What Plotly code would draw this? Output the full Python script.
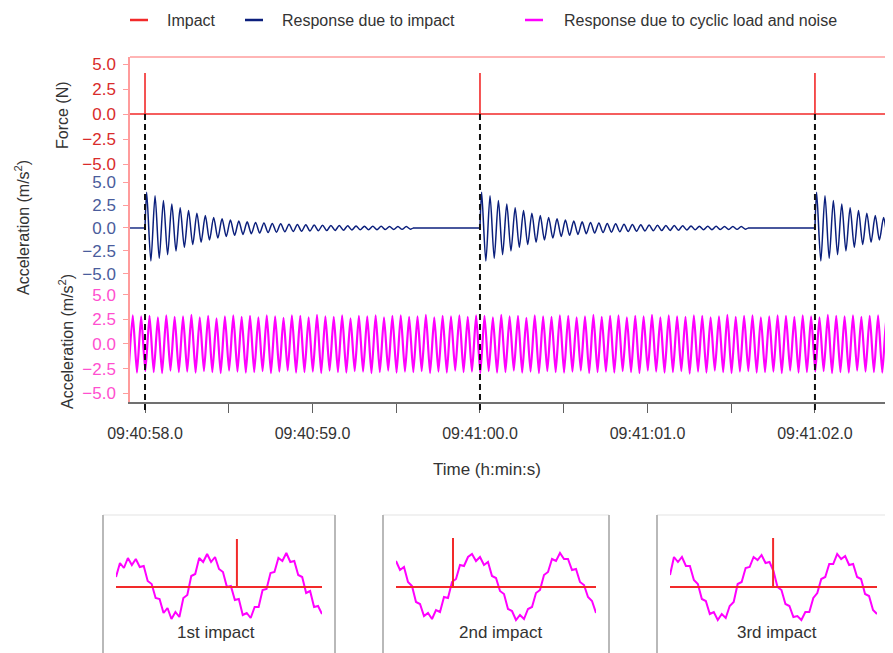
import plotly.graph_objects as go

W, H = 893, 653
PAGE_OFFSET = 8  # page body margin that shifts the figure in the window

# ---------------- data ----------------
tick_vals = [0.0, 0.5, 1.0, 1.5, 2.0, 2.5, 3.0, 3.5, 4.0]
tick_text = ["09:40:58.0", "", "09:40:59.0", "", "09:41:00.0", "", "09:41:01.0", "", "09:41:02.0"]
y_ticks = [-5.0, -2.5, 0.0, 2.5, 5.0]

impact_times = [0.0, 2.0, 4.0]          # seconds after 09:40:58.0
impact_peaks = [4.1, 4.1, 4.1]          # N

# damped response: per-cycle peak / trough (m/s^2)
resp_period = 0.05
resp_peaks = [3.9, 3.5, 3.0, 2.6, 2.2, 1.9, 1.6, 1.35, 1.15, 1.0, 0.87, 0.76, 0.67, 0.6, 0.54, 0.49,
              0.45, 0.41, 0.38, 0.35, 0.32, 0.3, 0.28, 0.26, 0.24, 0.22, 0.2, 0.19, 0.18, 0.17, 0.16, 0.15]
resp_troughs = [-3.6, -3.3, -2.9, -2.5, -2.1, -1.8, -1.55, -1.3, -1.1, -0.92, -0.8, -0.7, -0.62, -0.55, -0.5, -0.45,
                -0.41, -0.38, -0.35, -0.32, -0.3, -0.28, -0.26, -0.24, -0.22, -0.2, -0.19, -0.18, -0.17, -0.16, -0.15, -0.14]

# cyclic load + noise: per-cycle troughs / peaks (m/s^2)
cyc_start = -0.098
cyc_half = 0.025
cyc_peaks = [2.9, 2.8, 2.85, 2.7, 2.9, 2.75, 2.8, 2.95, 2.7, 2.85,
             2.6, 2.8, 2.9, 2.75, 2.85, 2.7, 2.9, 2.8, 2.65, 2.9,
             2.85, 2.7, 2.95, 2.8, 2.75, 2.9, 2.6, 2.85, 2.8, 2.9,
             2.7, 2.85, 2.9, 2.75, 2.8, 2.95, 2.7, 2.85, 2.8, 2.9,
             2.75, 2.9, 2.85, 2.7, 2.95, 2.8, 2.85, 2.65, 2.9, 2.8,
             2.75, 2.9, 2.85, 2.7, 2.8, 2.95, 2.75, 2.85, 2.9, 2.7,
             2.85, 2.8, 2.95, 2.7, 2.9, 2.8, 2.75, 2.9, 2.85, 2.7,
             2.8, 2.95, 2.75, 2.85, 2.9, 2.7, 2.8, 2.9, 2.85, 2.75,
             2.9, 2.8, 2.7, 2.95, 2.85, 2.8, 2.9, 2.75, 2.85, 2.9,
             2.8, 2.9]
cyc_troughs = [-2.8, -2.9, -2.75, -2.85, -2.95, -2.7, -2.85, -2.8, -2.9, -2.75,
               -2.85, -2.95, -2.7, -2.8, -2.9, -2.85, -2.75, -2.95, -2.8, -2.7,
               -2.9, -2.85, -2.8, -2.95, -2.7, -2.85, -2.9, -2.75, -2.8, -2.95,
               -2.85, -2.7, -2.9, -2.8, -2.85, -2.75, -2.95, -2.8, -2.9, -2.7,
               -2.85, -2.8, -2.95, -2.75, -2.9, -2.85, -2.7, -2.9, -2.8, -2.95,
               -2.75, -2.85, -2.9, -2.8, -2.7, -2.95, -2.85, -2.8, -2.9, -2.75,
               -2.85, -2.95, -2.7, -2.8, -2.9, -2.85, -2.75, -3.0, -2.8, -2.9,
               -2.7, -2.85, -2.95, -2.8, -2.75, -2.9, -2.85, -2.8, -2.95, -2.7,
               -2.9, -2.85, -2.8, -2.75, -2.95, -2.85, -2.9, -2.7, -2.8, -2.85,
               -2.9, -2.8]

# inset close-ups (relative units, 0 = force baseline)
inset_labels = ["1st impact", "2nd impact", "3rd impact"]
inset_spike_pos = [0.587, 0.285, 0.498]
inset_spike_top = [4.8, 4.9, 4.9]
inset_signals = [
    [1.0, 2.4, 1.9, 2.9, 2.2, 2.8, 2.0, 2.1, 0.6, 0.3, -1.1, -1.2, -2.6, -2.1, -3.2, -2.5, -3.0, -1.1,
     -0.8, 1.1, 1.3, 2.9, 2.5, 3.3, 2.5, 3.0, 1.8, 1.5, 0.0, 0.1, -1.3, -1.2, -2.8, -2.6, -3.1, -2.0,
     -2.0, -0.3, -0.2, 1.4, 1.5, 2.9, 2.6, 3.4, 2.5, 2.6, 1.2, 1.0, -0.6, -0.4, -2.0, -1.9, -2.7],
    [2.6, 1.7, 2.0, 0.5, 0.1, -1.5, -1.7, -2.9, -2.6, -3.2, -2.3, -2.5, -1.0, -1.1, 0.5, 0.8, 2.2,
     2.1, 3.0, 3.3, 2.6, 3.0, 2.2, 2.5, 1.1, 0.9, -0.4, -0.7, -2.2, -2.4, -3.3, -2.8, -3.2, -2.2,
     -2.0, -0.6, -0.3, 1.2, 1.5, 2.8, 2.6, 3.4, 2.8, 2.8, 1.7, 1.8, 0.5, 0.2, -1.0, -1.4, -2.6],
    [1.2, 3.0, 2.5, 3.0, 2.1, 2.1, 0.7, 0.3, -1.2, -1.4, -2.7, -2.5, -3.3, -2.7, -3.1, -1.9, -1.5,
     0.3, 0.5, 1.9, 2.0, 3.0, 2.7, 3.2, 2.4, 2.5, 1.6, 0.0, -0.3, -1.7, -1.9, -3.0, -2.9, -3.3,
     -2.5, -2.5, -1.1, -0.6, 0.8, 1.0, 2.3, 2.3, 3.3, 2.8, 3.1, 2.2, 2.3, 1.0, 0.8, -0.7, -0.9,
     -2.3, -2.7],
]

# ---------------- layout helpers ----------------
def px(x):
    return (x - PAGE_OFFSET) / W

def py(y):
    return 1 - (y - PAGE_OFFSET) / H

FONT = "Liberation Sans, Arial, sans-serif"
TXT = "#333333"
RED = "#f22a2a"
NAVY = "#0b1f7c"
MAG = "#ff00ff"
AXRED = "#ff9c9c"

X_RANGE = [-0.0896, 4.466]
END = X_RANGE[1] + 0.1

fig = go.Figure()

# ---- force trace ----
fx, fy = [X_RANGE[0]], [0.0]
for t, p in zip(impact_times, impact_peaks):
    fx += [t, t, t]
    fy += [0.0, p, 0.0]
fx.append(END)
fy.append(0.0)
fig.add_trace(go.Scatter(x=fx, y=fy, mode="lines", line=dict(color=RED, width=1.6),
                         xaxis="x", yaxis="y", hoverinfo="skip"))

# ---- impact response: flat baseline between responses + damped oscillations ----
resp_len = len(resp_peaks) * resp_period
bx, by = [], []
prev_end = X_RANGE[0]
for t in impact_times:
    bx += [prev_end, t, None]
    by += [0.0, 0.0, None]
    prev_end = t + resp_len
bx += [prev_end, END]
by += [0.0, 0.0]
fig.add_trace(go.Scatter(x=bx, y=by, mode="lines", line=dict(color=NAVY, width=1.4),
                         xaxis="x", yaxis="y2", hoverinfo="skip"))

rx, ry = [], []
for t in impact_times:
    rx.append(t)
    ry.append(0.0)
    for k, (pk, tr) in enumerate(zip(resp_peaks, resp_troughs)):
        rx += [t + (k + 0.2) * resp_period, t + (k + 0.7) * resp_period]
        ry += [pk, tr]
    rx += [t + resp_len, None]
    ry += [0.0, None]
fig.add_trace(go.Scatter(x=rx, y=ry, mode="lines",
                         line=dict(color=NAVY, width=1.5, shape="spline", smoothing=0.8),
                         xaxis="x", yaxis="y2", hoverinfo="skip", connectgaps=False))

# ---- cyclic load + noise ----
cx, cy = [], []
for i, (tr, pk) in enumerate(zip(cyc_troughs, cyc_peaks)):
    cx += [cyc_start + (2 * i) * cyc_half, cyc_start + (2 * i + 1) * cyc_half]
    cy += [tr, pk]
fig.add_trace(go.Scatter(x=cx, y=cy, mode="lines",
                         line=dict(color=MAG, width=2.2, shape="spline", smoothing=0.6),
                         xaxis="x", yaxis="y3", hoverinfo="skip"))

# ---- insets ----
inset_x_px = [(116, 322), (396, 596), (670, 877)]
inset_box_px = [(103, 335), (383, 609), (657, 889)]
inset_label_x = [216, 500, 777]
shapes = []
annotations = []
layout_axes = {}
for j in range(3):
    n = j + 4
    sig = inset_signals[j]
    xs = [k / (len(sig) - 1) for k in range(len(sig))]
    fig.add_trace(go.Scatter(x=xs, y=sig, mode="lines", line=dict(color=MAG, width=2.0),
                             xaxis=f"x{n}", yaxis=f"y{n}", hoverinfo="skip"))
    fig.add_trace(go.Scatter(x=[0, 1], y=[0, 0], mode="lines", line=dict(color=RED, width=2),
                             xaxis=f"x{n}", yaxis=f"y{n}", hoverinfo="skip"))
    sp = inset_spike_pos[j]
    fig.add_trace(go.Scatter(x=[sp, sp], y=[0, inset_spike_top[j]], mode="lines",
                             line=dict(color=RED, width=2),
                             xaxis=f"x{n}", yaxis=f"y{n}", hoverinfo="skip"))
    x0, x1 = inset_x_px[j]
    layout_axes[f"xaxis{n}"] = dict(domain=[px(x0), px(x1)], range=[0, 1], visible=False,
                                    anchor=f"y{n}", automargin=False)
    layout_axes[f"yaxis{n}"] = dict(domain=[py(630), py(530)], range=[-4.3, 5.7], visible=False,
                                    anchor=f"x{n}", automargin=False)
    b0, b1 = inset_box_px[j]
    shapes.append(dict(type="line", xref="paper", yref="paper", x0=px(b0), x1=px(b1),
                       y0=py(515), y1=py(515), line=dict(color="#ececec", width=1.5)))
    for bxx in (b0, b1):
        shapes.append(dict(type="line", xref="paper", yref="paper", x0=px(bxx), x1=px(bxx),
                           y0=py(515), y1=py(665), line=dict(color="#b9b9b9", width=2)))
    annotations.append(dict(text=inset_labels[j], x=px(inset_label_x[j]), y=py(632),
                            xref="paper", yref="paper", xanchor="center", yanchor="middle",
                            showarrow=False, font=dict(size=17, color=TXT, family=FONT)))

# ---- dashed impact markers ----
for t in impact_times:
    shapes.append(dict(type="line", xref="x", yref="paper", x0=t, x1=t, y0=py(410), y1=py(114),
                       line=dict(color="#111111", width=2, dash="6px,4px")))

# top border of force panel
shapes.append(dict(type="line", xref="paper", yref="paper", x0=px(130), x1=1.0,
                   y0=py(57), y1=py(57), line=dict(color=AXRED, width=1.5)))

# ---- legend (keys + text) ----
legend_items = [("Impact", RED, 130, 165), ("Response due to impact", NAVY, 245, 280),
                ("Response due to cyclic load and noise", MAG, 525, 562)]
for name, col, kx, tx in legend_items:
    shapes.append(dict(type="line", xref="paper", yref="paper", x0=px(kx), x1=px(kx + 18),
                       y0=py(20), y1=py(20), line=dict(color=col, width=2.5)))
    annotations.append(dict(text=name, x=px(tx), y=py(21), xref="paper", yref="paper",
                            xanchor="left", yanchor="middle", showarrow=False,
                            font=dict(size=16, color=TXT, family=FONT)))

# ---- axis titles ----
def title_ann(text, x, y, angle, size=16):
    return dict(text=text, x=px(x), y=py(y), textangle=angle, xref="paper", yref="paper",
                xanchor="center", yanchor="middle", showarrow=False,
                font=dict(size=size, color=TXT, family=FONT))

annotations += [
    title_ann("Force (N)", 62, 115, -90),
    title_ann("Acceleration (m/s<sup>2</sup>)", 22, 228, -90),
    title_ann("Acceleration (m/s<sup>2</sup>)", 66, 342, -90),
    title_ann("Time (h:min:s)", 487, 469, 0, 17),
]

def yax(domain, rng, color):
    return dict(domain=domain, range=rng, tickvals=y_ticks, tickformat=".1f",
                ticks="outside", ticklen=5, tickcolor=AXRED, showline=True, linecolor=AXRED,
                linewidth=1.5, showgrid=False, zeroline=False, anchor="x", automargin=False,
                ticklabelstandoff=4, tickfont=dict(size=17, color=color, family=FONT))

fig.update_layout(
    width=W, height=H,
    margin=dict(l=0, r=0, t=0, b=0, pad=0, autoexpand=False),
    paper_bgcolor="white", plot_bgcolor="white",
    showlegend=False,
    xaxis=dict(domain=[px(130), px(893)], range=X_RANGE, anchor="y3", automargin=False,
               tickvals=tick_vals, ticktext=tick_text, ticks="outside", ticklen=9,
               tickcolor="#606060", showline=True, linecolor="#707070", linewidth=1.5,
               showgrid=False, zeroline=False, ticklabelstandoff=7,
               tickfont=dict(size=16, color=TXT, family=FONT)),
    yaxis=yax([py(173), py(57)], [-5.9, 5.7], "#d92b2b"),
    yaxis2=yax([py(285), py(173)], [-6.2, 5.98], "#4a5c9c"),
    yaxis3=yax([py(402), py(285)], [-5.89, 5.99], "#ff4fcf"),
    shapes=shapes,
    annotations=annotations,
    **layout_axes,
)

fig.write_html("out.html")
